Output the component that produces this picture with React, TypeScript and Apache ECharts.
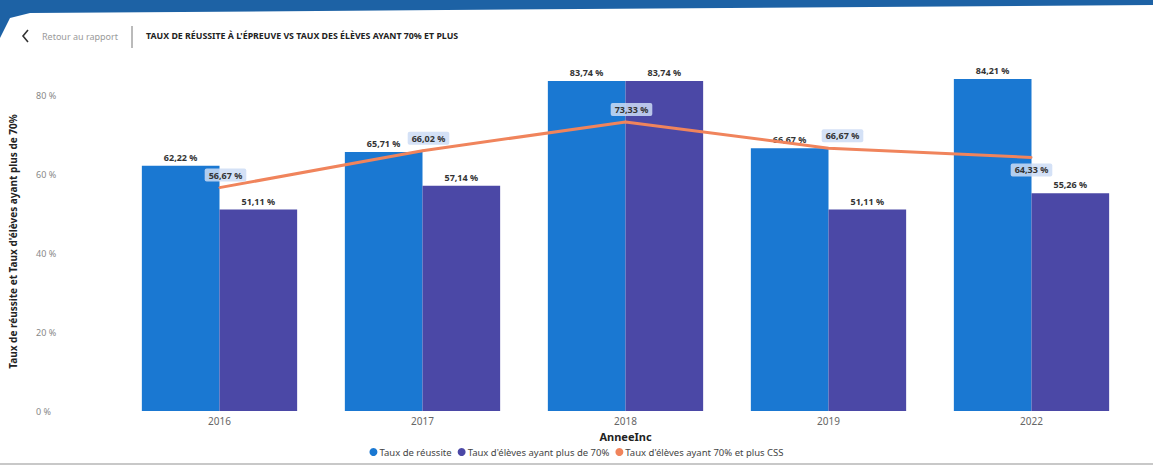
import React, { useEffect, useRef } from "react";
import * as echarts from "echarts";

const years = ["2016", "2017", "2018", "2019", "2022"];
const tauxReussite = [62.22, 65.71, 83.74, 66.67, 84.21];
const tauxPlus70 = [51.11, 57.14, 83.74, 51.11, 55.26];
const tauxCSS = [56.67, 66.02, 73.33, 66.67, 64.33];
const seriesNames = [
  "Taux de réussite",
  "Taux d'élèves ayant plus de 70%",
  "Taux d'élèves ayant 70% et plus CSS",
];
const yAxisTitle = "Taux de réussite et Taux d'élèves ayant plus de 70%";
const xAxisTitle = "AnneeInc";
const chartTitle = "TAUX DE RÉUSSITE À L'ÉPREUVE VS TAUX DES ÉLÈVES AYANT 70% ET PLUS";
const backText = "Retour au rapport";

const FONT = "'Noto Sans', 'Open Sans', sans-serif";
const fmt = (v: number) => v.toFixed(2).replace(".", ",") + " %";

export default function App() {
  const ref = useRef<HTMLDivElement>(null);
  useEffect(() => {
    if (!ref.current) return;
    const chart = echarts.init(ref.current, null, { renderer: "svg" });
    const barLabel = {
      show: true,
      position: "top",
      distance: 4,
      fontSize: 9,
      fontWeight: "bold",
      color: "#333",
      fontFamily: FONT,
      formatter: (p: any) => fmt(p.value),
    };
    const lineLabelOverride = (i: number) => {
      if (i === tauxCSS.length - 1) return { position: "bottom", offset: [0, 0] };
      if (i === 3) return { offset: [14, 0] };
      return null;
    };
    chart.setOption({
      animation: false,
      backgroundColor: "#ffffff",
      textStyle: { fontFamily: FONT },
      graphic: [
        {
          type: "polygon",
          shape: { points: [[0, 0], [1153, 0], [1153, 5], [30, 13], [10, 18], [0, 38]] },
          style: { fill: "#1d62a5" },
          silent: true,
        },
        {
          type: "polyline",
          shape: { points: [[28, 30], [23, 36], [28, 42]] },
          style: { stroke: "#333", lineWidth: 1.6, fill: null },
        },
        {
          type: "text",
          x: 42,
          y: 36,
          style: { text: backText, fontSize: 9, fill: "#9a9a9a", fontFamily: FONT, verticalAlign: "middle" },
        },
        {
          type: "line",
          shape: { x1: 132, y1: 26, x2: 132, y2: 48 },
          style: { stroke: "#777", lineWidth: 1 },
        },
        {
          type: "text",
          x: 146,
          y: 36,
          style: {
            text: chartTitle,
            fontSize: 8.8,
            fontWeight: "bold",
            fill: "#222",
            fontFamily: FONT,
            verticalAlign: "middle",
          },
        },
        {
          type: "line",
          shape: { x1: 0, y1: 464, x2: 1153, y2: 464 },
          style: { stroke: "#c8c8c8", lineWidth: 2 },
        },
      ],
      legend: {
        data: seriesNames,
        bottom: 6,
        left: "center",
        icon: "circle",
        itemWidth: 8,
        itemHeight: 8,
        itemGap: 6,
        textStyle: { fontSize: 9.5, color: "#444", fontFamily: FONT, padding: [0, 0, 0, -3] },
      },
      grid: { left: 115, right: 20, top: 72, bottom: 57 },
      xAxis: {
        type: "category",
        data: years,
        name: xAxisTitle,
        nameLocation: "middle",
        nameGap: 20,
        nameTextStyle: { fontSize: 11, fontWeight: "bold", color: "#222", fontFamily: FONT },
        axisLine: { show: false },
        axisTick: { show: false },
        axisLabel: { fontSize: 10, color: "#666", margin: 5, fontFamily: FONT },
      },
      yAxis: {
        type: "value",
        min: 0,
        max: 86,
        interval: 20,
        name: yAxisTitle,
        nameLocation: "middle",
        nameGap: 100,
        nameTextStyle: { fontSize: 10, fontWeight: "bold", color: "#222", fontFamily: FONT },
        splitLine: { show: false },
        axisLine: { show: false },
        axisTick: { show: false },
        axisLabel: {
          showMaxLabel: false,
          align: "left",
          margin: 82,
          fontSize: 9,
          color: "#888",
          fontFamily: FONT,
          formatter: (v: number) => v + " %",
        },
      },
      series: [
        {
          name: seriesNames[0],
          type: "bar",
          data: tauxReussite,
          barGap: "0%",
          barCategoryGap: "23.5%",
          itemStyle: { color: "#1a78d2" },
          label: barLabel,
        },
        {
          name: seriesNames[1],
          type: "bar",
          data: tauxPlus70,
          itemStyle: { color: "#4b48a6" },
          label: barLabel,
        },
        {
          name: seriesNames[2],
          type: "line",
          data: tauxCSS.map((v, i) => {
            const o = lineLabelOverride(i);
            return o ? { value: v, label: o } : v;
          }),
          symbol: "circle",
          symbolSize: 2,
          z: 5,
          lineStyle: { color: "#f0845c", width: 3 },
          itemStyle: { color: "#f0845c" },
          label: {
            show: true,
            position: "top",
            distance: 5,
            offset: [6, 0],
            fontSize: 9,
            fontWeight: "bold",
            color: "#333",
            fontFamily: FONT,
            backgroundColor: "rgba(205,220,245,0.85)",
            padding: [2, 4],
            borderRadius: 2,
            formatter: (p: any) => fmt(p.value),
          },
        },
      ],
    });
    return () => chart.dispose();
  }, []);
  return (
    <div
      ref={ref}
      style={{ position: "absolute", left: 0, top: 0, width: 1153, height: 468, background: "#fff" }}
    />
  );
}
